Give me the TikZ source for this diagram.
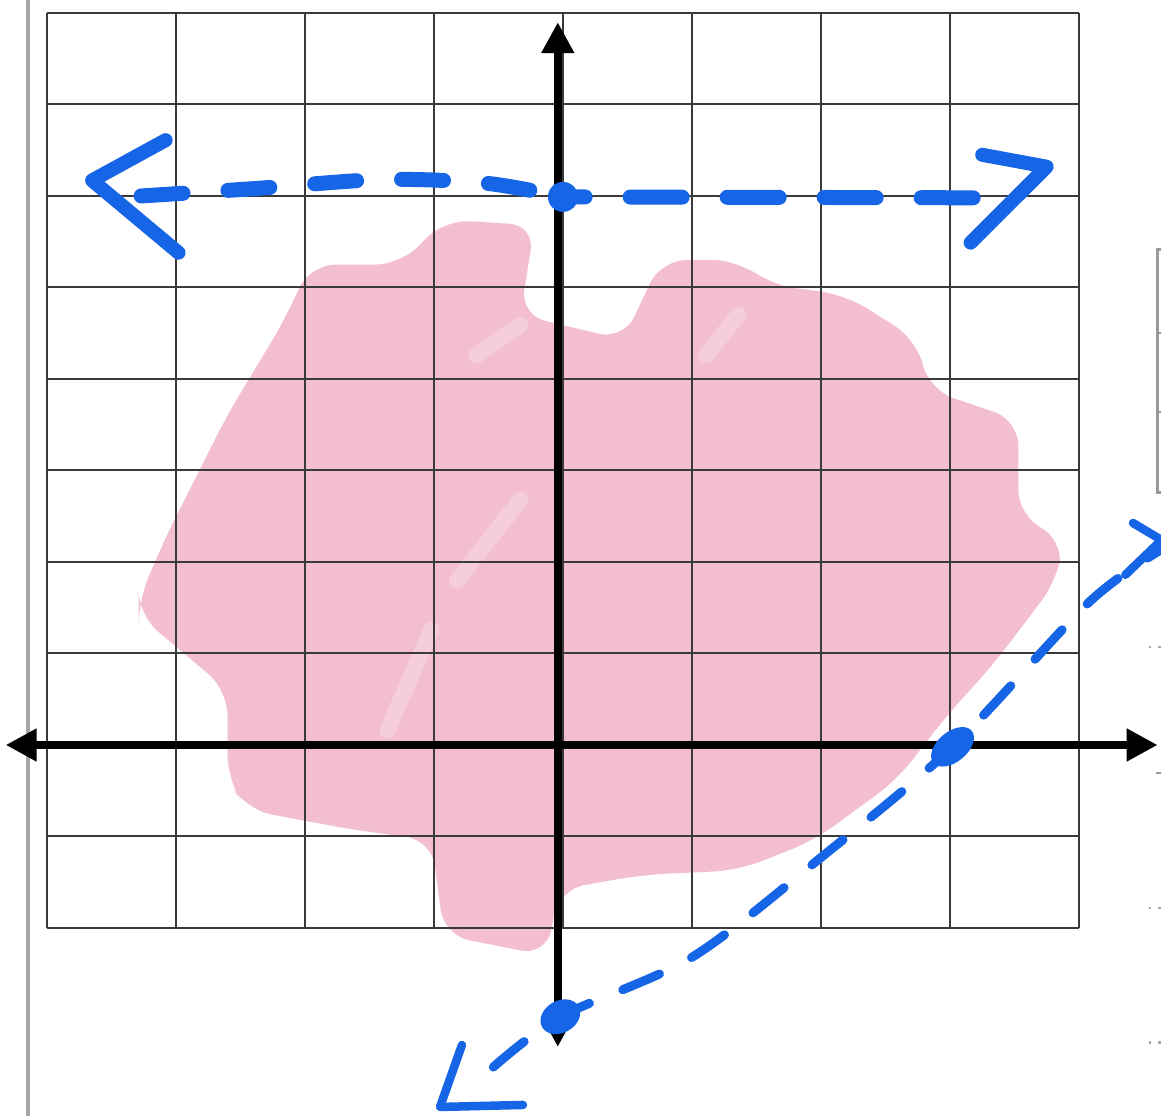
\documentclass[tikz,border=0pt]{standalone}
\usepackage{xcolor}
\usepackage{tikz}
\usetikzlibrary{arrows.meta}
\definecolor{penblue}{HTML}{1565E6}
\definecolor{hilite}{HTML}{F3BECE}
\definecolor{gridgray}{HTML}{3A3A3A}

\begin{document}
\begin{tikzpicture}[
  x=1.29cm,y=0.915cm,
  gridline/.style={draw=gridgray,line width=0.02cm},
  axis/.style={line width=0.08cm,{Triangle[length=0.31cm,width=0.31cm]}-{Triangle[length=0.31cm,width=0.31cm]}},
  pen/.style={draw=penblue,line cap=round,line join=round},
  bound/.style={pen,line width=0.15cm,dash pattern=on 0.42cm off 0.45cm},
  slant/.style={pen,line width=0.09cm,dash pattern=on 0.40cm off 0.36cm},
  tipbig/.style={pen,line width=0.14cm},
  tipsmall/.style={pen,line width=0.085cm},
  dot/.style={fill=penblue},
  streak/.style={draw=white,opacity=0.25,line width=0.16cm,line cap=round}
]
\useasboundingbox (-4.364,-4.055) rectangle (4.636,8.142);
% page margin and cut-off table on the right
\draw[gray!70,line width=0.045cm] (-4.147,8.142) -- (-4.147,-4.055);
\draw[gray!80,line width=0.03cm] (4.636,5.41) -- (4.612,5.41) -- (4.612,2.754) -- (4.636,2.754);
\foreach \h in {4.503,3.639} {\draw[gray!80,line width=0.02cm] (4.612,\h) -- (4.636,\h);}
\foreach \h in {1.07,-1.78,-3.25} {\draw[gray!70,line width=0.025cm,dotted] (4.54,\h) -- (4.636,\h);}
\draw[gray!80,line width=0.02cm] (4.60,-0.31) -- (4.636,-0.31);
% shaded region
\fill[hilite,rounded corners=0.25cm] (-3.29,1.58) -- (-3.09,2.24) -- (-2.60,3.61) -- (-2.16,4.64) -- (-1.96,5.25)
  -- (-1.26,5.25) -- (-0.92,5.74) -- (-0.22,5.68) -- (-0.33,4.70) -- (0.47,4.43) -- (0.76,5.30)
  -- (1.36,5.30) -- (1.60,5.03) -- (2.19,4.92) -- (2.74,4.43) -- (2.84,3.88) -- (3.53,3.55)
  -- (3.53,2.51) -- (3.88,2.24) -- (3.83,1.80) -- (3.33,0.87) -- (2.98,0.33) -- (2.59,-0.38)
  -- (1.95,-1.04) -- (1.36,-1.37) -- (0.61,-1.42) -- (-0.03,-1.58) -- (-0.13,-2.30) -- (-0.92,-2.08)
  -- (-1.02,-1.04) -- (-1.61,-0.93) -- (-2.45,-0.71) -- (-2.60,-0.38) -- (-2.60,0.60) -- (-3.29,1.42) -- cycle;
\draw[streak] (-1.36,0.16) -- (-1.02,1.26);
\draw[streak] (-0.82,1.80) -- (-0.33,2.68);
\draw[streak] (-0.67,4.26) -- (-0.33,4.59);
\draw[streak] (1.11,4.26) -- (1.36,4.70);
% grid
\foreach \i in {-4,...,4} {\draw[gridline] (\i,-2) -- (\i,8);}
\foreach \j in {-2,...,8} {\draw[gridline] (-4,\j) -- (4,\j);}
% axes
\coordinate (xleft) at (-4.32,0);
\coordinate (xright) at (4.61,0);
\coordinate (ytop) at (-0.04,7.90);
\coordinate (ybottom) at (-0.04,-3.30);
\draw[axis] (xleft) -- (xright);
\draw[axis] (ybottom) -- (ytop);
% points on the boundary lines
\coordinate (yint) at (0,5.99);
\coordinate (yintlow) at (-0.02,-2.97);
\coordinate (xint) at (3.02,-0.02);
% dashed horizontal line
\draw[bound] plot[smooth] coordinates {(-3.27,6.0) (-2.4,6.08) (-1.4,6.18) (-0.6,6.14) (yint)};
\draw[bound,dash pattern=on 0.52cm off 0.45cm] (3.18,5.98) -- (yint);
\draw[tipbig] (-3.08,6.61) -- (-3.65,6.17) -- (-2.98,5.38);
\draw[tipbig] (3.25,6.45) -- (3.75,6.32) -- (3.16,5.49);
% dashed slanted line
\draw[slant] plot[smooth] coordinates {(-0.54,-3.52) (yintlow) (1,-2.32) (2,-1.23) (xint) (4.07,1.55) (4.62,2.12)};
\draw[tipsmall] (-0.783,-3.279) -- (-0.953,-3.956) -- (-0.310,-3.934);
\draw[tipsmall] (4.419,2.426) -- (4.64,2.24) -- (4.36,1.86);
% dots
\fill[dot] (yint) circle[radius=0.15cm];
\fill[dot,rotate around={30:(yintlow)}] (yintlow) ellipse[x radius=0.21cm,y radius=0.16cm];
\fill[dot,rotate around={40:(xint)}] (xint) ellipse[x radius=0.25cm,y radius=0.15cm];
\end{tikzpicture}
\end{document}
